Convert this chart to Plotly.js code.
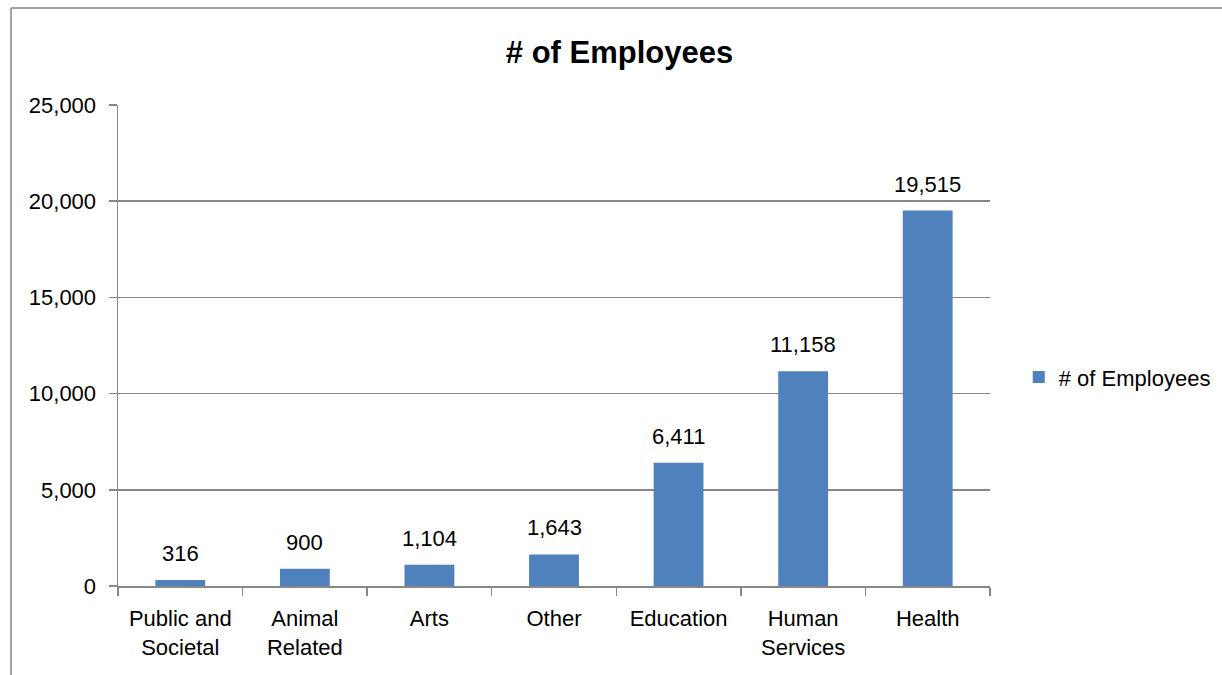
<!DOCTYPE html>
<html>
<head>
<meta charset="utf-8">
<script src="https://cdn.plot.ly/plotly-3.0.1.min.js"></script>
<style>html,body{margin:0;padding:0;background:#fff;}#chart{width:1222px;height:675px;}</style>
</head>
<body>
<div id="chart"></div>
<script>
const categories = ["Public and<br>Societal", "Animal<br>Related", "Arts", "Other", "Education", "Human<br>Services", "Health"];
const employees = [316, 900, 1104, 1643, 6411, 11158, 19515];
const seriesName = "# of Employees";
const yTicks = [0, 5000, 10000, 15000, 20000, 25000];

const FONT = "'Liberation Sans Narrow', 'Arial Narrow', 'Liberation Sans', Arial, sans-serif";
const GRID = "#878787";
const fmt = v => v.toLocaleString("en-US");

const trace = {
  type: "bar",
  x: categories,
  y: employees,
  name: seriesName,
  marker: {color: "#4F81BD"},
  width: 0.4,
  showlegend: true
};

const labels = categories.map((c, i) => ({
  x: c, y: employees[i], xref: "x", yref: "y",
  text: fmt(employees[i]), showarrow: false,
  xanchor: "center", yanchor: "bottom", yshift: 12,
  font: {family: FONT, size: 22, color: "#000"}
}));

const layout = {
  width: 1222, height: 675,
  margin: {l: 118, r: 232, t: 105, b: 89, autoexpand: false},
  paper_bgcolor: "#fff", plot_bgcolor: "#fff",
  font: {family: FONT, size: 22, color: "#000"},
  title: {text: "<b># of Employees</b>", font: {family: FONT, size: 31, color: "#000"},
          x: 0.507, xanchor: "center", y: 0.923, yanchor: "middle"},
  xaxis: {
    type: "category",
    showgrid: false,
    showline: true, linecolor: GRID, linewidth: 1.5,
    ticks: "outside", ticklen: 8, tickcolor: GRID, tickwidth: 1.5,
    tickson: "boundaries",
    ticklabelstandoff: 12,
    tickfont: {family: FONT, size: 22, color: "#000"},
    automargin: false
  },
  yaxis: {
    range: [0, 25000],
    tickvals: yTicks,
    ticktext: yTicks.map(fmt),
    showgrid: true, gridcolor: GRID, gridwidth: 1.5,
    showline: true, linecolor: GRID, linewidth: 1.5,
    ticks: "outside", ticklen: 8, tickcolor: GRID, tickwidth: 1.5,
    ticklabelstandoff: 8,
    zeroline: false,
    tickfont: {family: FONT, size: 22, color: "#000"},
    automargin: false
  },
  showlegend: true,
  legend: {x: 1.033, xanchor: "left", y: 0.434, yanchor: "middle",
           font: {family: FONT, size: 22, color: "#000"}, bgcolor: "rgba(0,0,0,0)",
           itemwidth: 30},
  annotations: labels,
  shapes: [
    {type: "line", xref: "paper", yref: "paper", x0: -0.1227, x1: -0.1227, y0: 1.2017, y1: -0.2,
     line: {color: GRID, width: 1.5}},
    {type: "line", xref: "paper", yref: "paper", x0: -0.1227, x1: 1.3, y0: 1.2017, y1: 1.2017,
     line: {color: GRID, width: 1.5}}
  ]
};

Plotly.newPlot("chart", [trace], layout, {displayModeBar: false, staticPlot: true});
</script>
</body>
</html>
